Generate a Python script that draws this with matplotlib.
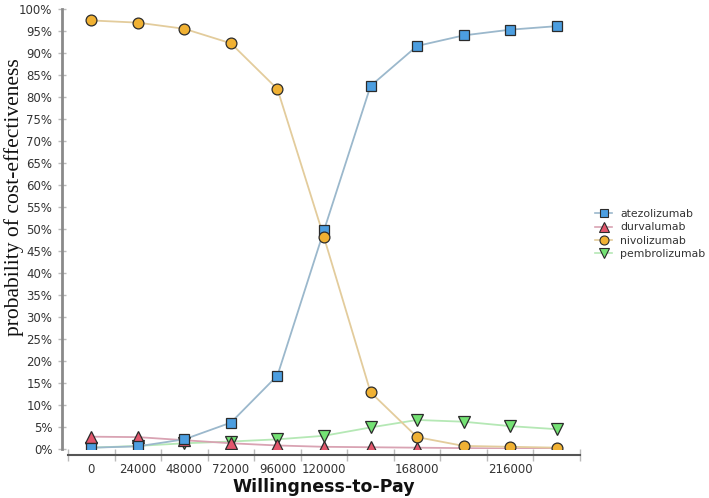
# Cost-effectiveness acceptability curves
# Recreates the CEAC figure for the four PD-1/PD-L1 drugs

# ------------------------------------------------------
# IMPORTS
# ------------------------------------------------------

import numpy as np
import matplotlib
matplotlib.use('Agg')
import matplotlib.pyplot as plt
from matplotlib.ticker import FixedLocator, FuncFormatter

# ------------------------------------------------------
# INPUTS
# ------------------------------------------------------

wtp = [0, 24000, 48000, 72000, 96000, 120000, 144000, 168000, 192000, 216000, 240000]
wtp_labels = ['0', '24000', '48000', '72000', '96000', '120000', '', '168000', '', '216000', '']

atezolizumab = [0.3, 0.6, 2.2, 6.0, 16.7, 49.7, 82.5, 91.6, 94.0, 95.3, 96.1]
durvalumab = [2.8, 2.7, 2.0, 1.3, 0.8, 0.5, 0.4, 0.3, 0.2, 0.1, 0.1]
nivolizumab = [97.4, 96.9, 95.5, 92.2, 81.8, 48.1, 12.9, 2.7, 0.7, 0.5, 0.3]
pembrolizumab = [0.3, 0.7, 1.3, 1.7, 2.2, 3.0, 4.9, 6.6, 6.2, 5.2, 4.5]

yticks = list(range(0, 101, 5))

# ------------------------------------------------------
# PLOT
# ------------------------------------------------------

fig = plt.figure(figsize=(7.09, 4.98), dpi=100)
W, H = 709., 498.
# axes box in pixels: x 68..580, y 9..449 (top origin)
ax1 = fig.add_axes([68/W, 1-449/H, (580-68)/W, (449-9)/H])

x = np.arange(len(wtp))

# draw order: green, red, blue, orange on top
ax1.plot(x, pembrolizumab, '-', color='#b5e8b5', lw=1.3, zorder=2)
ax1.plot(x, durvalumab, '-', color='#d9a3b3', lw=1.3, zorder=2)
ax1.plot(x, atezolizumab, '-', color='#9bb8cc', lw=1.3, zorder=2)
ax1.plot(x, nivolizumab, '-', color='#e3cc9c', lw=1.3, zorder=2)

ax1.plot(x, pembrolizumab, 'v', color='#74e274', ms=8, mec='#2b2b2b', mew=0.9, zorder=3)
ax1.plot(x, durvalumab, '^', color='#e2566c', ms=8, mec='#2b2b2b', mew=0.9, zorder=3)
ax1.plot(x, atezolizumab, 's', color='#4c9ee0', ms=7, mec='#2b2b2b', mew=0.9, zorder=4)
ax1.plot(x, nivolizumab, 'o', color='#f0b133', ms=7.8, mec='#2b2b2b', mew=0.9, zorder=5)

# legend proxies (line + marker)
h1, = ax1.plot([], [], '-s', color='#9bb8cc', mfc='#4c9ee0', mec='#2b2b2b', ms=6, mew=0.8, lw=1.2)
h2, = ax1.plot([], [], '-^', color='#d9a3b3', mfc='#e2566c', mec='#2b2b2b', ms=6.5, mew=0.8, lw=1.2)
h3, = ax1.plot([], [], '-o', color='#e3cc9c', mfc='#f0b133', mec='#2b2b2b', ms=6.5, mew=0.8, lw=1.2)
h4, = ax1.plot([], [], '-v', color='#b5e8b5', mfc='#74e274', mec='#2b2b2b', ms=6.5, mew=0.8, lw=1.2)
fig.legend([h1, h2, h3, h4], ['atezolizumab', 'durvalumab', 'nivolizumab', 'pembrolizumab'],
		   loc='center left', bbox_to_anchor=(595/W, 1-234/H), frameon=False,
		   fontsize=7.8, handlelength=1.6, handletextpad=0.7, labelspacing=0.3,
		   borderaxespad=0, borderpad=0, labelcolor='#333333')

ax1.set_xlim(-0.5, len(wtp)-0.5)
ax1.set_ylim(0, 100)

# spines
for s in ['top', 'right']:
	ax1.spines[s].set_visible(False)
ax1.spines['left'].set_position(('outward', 4.3))
ax1.spines['left'].set_color('#8a8a8a')
ax1.spines['left'].set_linewidth(2)
ax1.spines['bottom'].set_position(('outward', 4.3))
ax1.spines['bottom'].set_color('#555555')
ax1.spines['bottom'].set_linewidth(1.5)

# y ticks
ax1.set_yticks(yticks)
ax1.yaxis.set_major_formatter(FuncFormatter(lambda v, p: '%d%%' % v))
ax1.tick_params(axis='y', direction='inout', length=6, width=1, color='#bbbbbb',
				labelsize=8.5, labelcolor='#333333', pad=4)

# x ticks: labels at category centres, marks at boundaries
ax1.set_xticks(x)
ax1.set_xticklabels(wtp_labels)
ax1.xaxis.set_minor_locator(FixedLocator(np.arange(-0.5, len(wtp), 1.0)))
ax1.tick_params(axis='x', which='major', length=0, labelsize=8.5, labelcolor='#333333', pad=6)
ax1.tick_params(axis='x', which='minor', direction='inout', length=8, width=1, color='#bbbbbb')

# labels
ax1.set_xlabel('Willingness-to-Pay', fontsize=12.5, fontweight='bold', color='#111111', labelpad=1)
fig.text(14/W, 1-197/H, 'probability of cost-effectiveness', rotation=90,
		 fontsize=15.5, family='Liberation Serif', color='#111111', ha='center', va='center')

fig.savefig('out.png', dpi=100)
plt.close('all')
